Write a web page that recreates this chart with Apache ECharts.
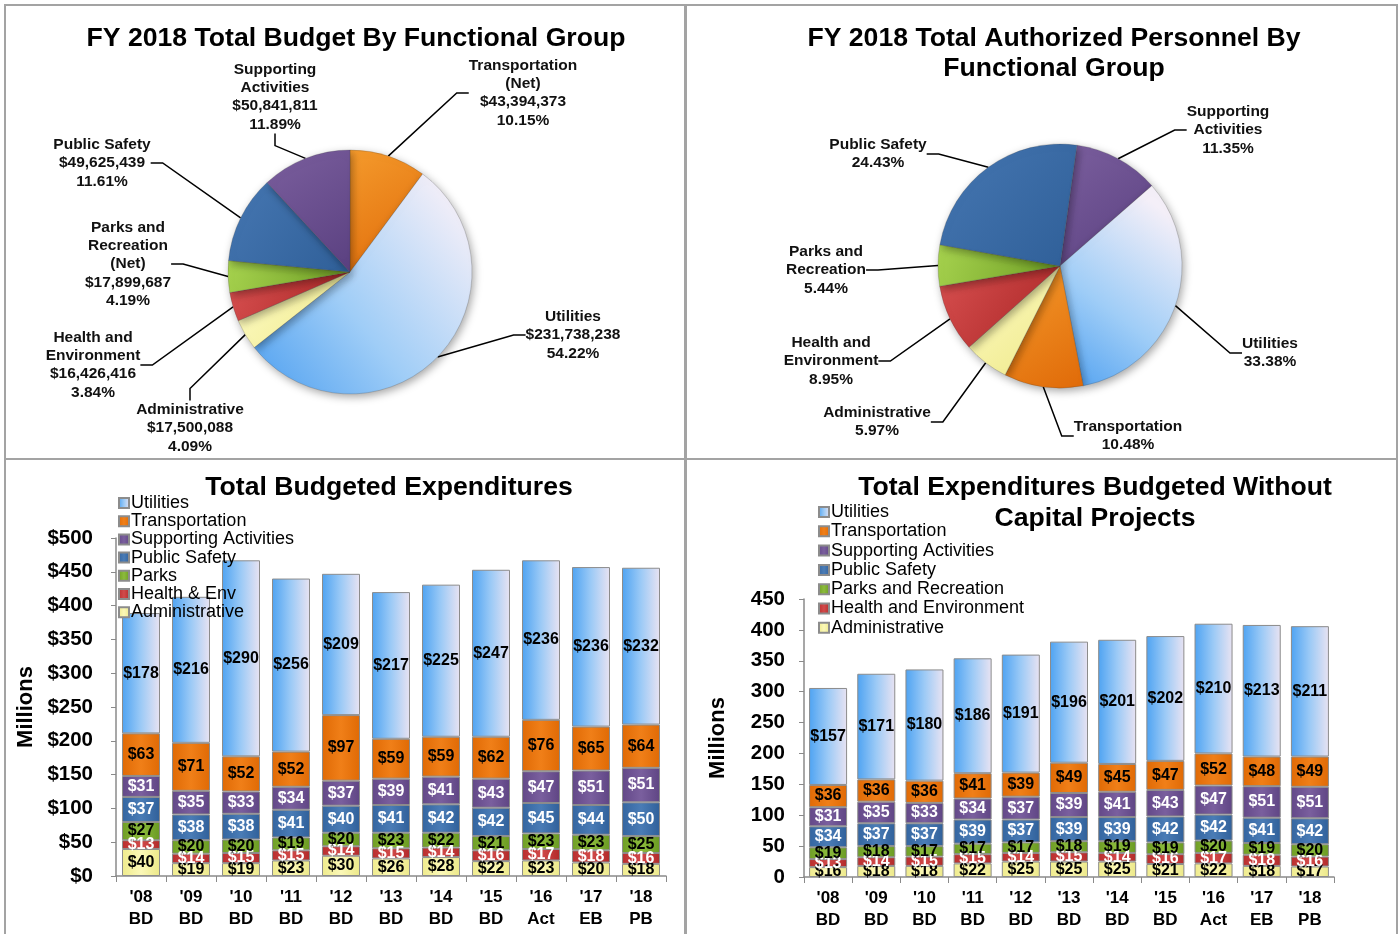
<!DOCTYPE html>
<html><head><meta charset="utf-8">
<script src="https://cdn.jsdelivr.net/npm/echarts@6/dist/echarts.min.js"></script>
<style>
html,body{margin:0;padding:0;background:#fff;width:1399px;height:934px;overflow:hidden;}
.c{position:absolute;}
.b{position:absolute;border:2px solid #a3a3a3;box-sizing:border-box;pointer-events:none;}
</style></head><body>
<div id="tl" class="c" style="left:0;top:0;width:685px;height:458px"></div>
<div id="tr" class="c" style="left:685px;top:0;width:714px;height:458px"></div>
<div id="bl" class="c" style="left:0;top:458px;width:685px;height:476px"></div>
<div id="br" class="c" style="left:685px;top:458px;width:714px;height:476px"></div>
<div class="b" style="left:4px;top:4px;width:683px;height:456px"></div>
<div class="b" style="left:684px;top:4px;width:714px;height:456px"></div>
<div class="b" style="left:4px;top:458px;width:683px;height:480px"></div>
<div class="b" style="left:684px;top:458px;width:714px;height:480px"></div>
<script>
// ---------- DATA ----------
const categories = ["'08\nBD","'09\nBD","'10\nBD","'11\nBD","'12\nBD","'13\nBD","'14\nBD","'15\nBD","'16\nAct","'17\nEB","'18\nPB"];

// Total Budgeted Expenditures (millions)
const totAdministrative = [40,19,19,23,30,26,28,22,23,20,18];
const totHealth         = [13,14,15,15,14,15,14,16,17,18,16];
const totParks          = [27,20,20,19,20,23,22,21,23,23,25];
const totPublicSafety   = [37,38,38,41,40,41,42,42,45,44,50];
const totSupporting     = [31,35,33,34,37,39,41,43,47,51,51];
const totTransportation = [63,71,52,52,97,59,59,62,76,65,64];
const totUtilities      = [178,216,290,256,209,217,225,247,236,236,232];

// Total Expenditures Budgeted Without Capital Projects (millions)
const opAdministrative = [16,18,18,22,25,25,25,21,22,18,17];
const opHealth         = [13,14,15,15,14,15,14,16,17,18,16];
const opParks          = [19,18,17,17,17,18,19,19,20,19,20];
const opPublicSafety   = [34,37,37,39,37,39,39,42,42,41,42];
const opSupporting     = [31,35,33,34,37,39,41,43,47,51,51];
const opTransportation = [36,36,36,41,39,49,45,47,52,48,49];
const opUtilities      = [157,171,180,186,191,196,201,202,210,213,211];

// FY 2018 budget by functional group (dollars)
const budgetNames  = ["Transportation\n(Net)","Utilities","Administrative","Health and\nEnvironment","Parks and\nRecreation\n(Net)","Public Safety","Supporting\nActivities"];
const budgetValues = [43394373,231738238,17500088,16426416,17899687,49625439,50841811];

// FY 2018 authorized personnel by functional group (percent)
const personnelNames = ["Supporting\nActivities","Utilities","Transportation","Administrative","Health and\nEnvironment","Parks and\nRecreation","Public Safety"];
const personnelPct   = [11.35,33.38,10.48,5.97,8.95,5.44,24.43];

const barLegendTot = ["Utilities","Transportation","Supporting Activities","Public Safety","Parks","Health & Env","Administrative"];
const barLegendOp  = ["Utilities","Transportation","Supporting Activities","Public Safety","Parks and Recreation","Health and Environment","Administrative"];

// ---------- STYLE ----------
const FONT = "'Liberation Sans', Arial, sans-serif";
const G = echarts.graphic.LinearGradient;
const grad = (a,b,c) => new G(0,0,1,0,[{offset:0,color:a},{offset:0.5,color:b},{offset:1,color:c}]);
const groupStyle = {
  Utilities:      {color: grad('#4ea3f2','#9ccaf6','#e9e3f2'), label:'#000'},
  Transportation: {color: grad('#e06a05','#f07f18','#e06a05'), label:'#000'},
  Supporting:     {color: grad('#634888','#7a5f9e','#5f4584'), label:'#fff'},
  PublicSafety:   {color: grad('#3465a0','#4a7cb6','#30609a'), label:'#fff'},
  Parks:          {color: grad('#6f9e25','#8cbb3c','#6a9a22'), label:'#000'},
  Health:         {color: grad('#b92e2e','#d24a4a','#b22a2a'), label:'#fff'},
  Administrative: {color: grad('#efeb8c','#fbf8b8','#ece888'), label:'#000'}
};

function barSeries(name, data, key) {
  return {
    name, type:'bar', stack:'s', data, barWidth:38,
    itemStyle:{color:groupStyle[key].color, borderColor:'#8c8c8c', borderWidth:1},
    label:{show:true, position:'inside', formatter:p=>'$'+p.value, color:groupStyle[key].label,
      fontFamily:FONT, fontWeight:'bold', fontSize:16},
    emphasis:{disabled:true}
  };
}

function barOption(titleText, titleX, legendNames, legendLeft, legendTop, legendGap, grid, yMax, dollar, nameGap, labelMargin, d) {
  const keys = ['Administrative','Health','Parks','PublicSafety','Supporting','Transportation','Utilities'];
  const names = [legendNames[6],legendNames[5],legendNames[4],legendNames[3],legendNames[2],legendNames[1],legendNames[0]];
  return {
    animation:false,
    title:{text:titleText, left:titleX, textAlign:'center', top:9, textStyle:{fontFamily:FONT,fontWeight:'bold',fontSize:26.6,color:'#000',lineHeight:31}},
    legend:{orient:'vertical', left:legendLeft, top:legendTop, itemGap:legendGap, itemWidth:10, itemHeight:10, icon:'rect',
      data:legendNames, textStyle:{fontFamily:FONT,fontSize:18,color:'#000',lineHeight:18, padding:[0,0,0,-3]}},
    grid,
    xAxis:{type:'category', data:categories,
      axisLine:{lineStyle:{color:'#8a8a8a',width:1.5}},
      axisTick:{show:true, length:6, lineStyle:{color:'#8a8a8a'}},
      axisLabel:{fontFamily:FONT,fontWeight:'bold',fontSize:17,color:'#000',lineHeight:22,margin:10}},
    yAxis:{type:'value', min:0, max:yMax, interval:50,
      name:'Millions', nameLocation:'middle', nameGap,
      nameTextStyle:{fontFamily:FONT,fontWeight:'bold',fontSize:22,color:'#000'},
      axisLine:{show:true,lineStyle:{color:'#8a8a8a',width:1.5}},
      axisTick:{show:true,length:5,lineStyle:{color:'#8a8a8a'}},
      splitLine:{show:false},
      axisLabel:{formatter:v=>(dollar?'$':'')+v, fontFamily:FONT,fontWeight:'bold',fontSize:20.5,color:'#000',margin:labelMargin}},
    series: keys.map((k,i)=>barSeries(names[i], d[i], k))
  };
}

const pieSlice = {
  Utilities: new G(0,1,1,0.2,[{offset:0,color:'#4d9ff0'},{offset:0.45,color:'#9fcdf7'},{offset:1,color:'#f4eff8'}]),
  Transportation: new G(0,0,1,1,[{offset:0,color:'#f49a2c'},{offset:1,color:'#e06a08'}]),
  Supporting: new G(0,0,1,1,[{offset:0,color:'#7b5f9e'},{offset:1,color:'#5a4080'}]),
  PublicSafety: new G(0,0,1,1,[{offset:0,color:'#4677b2'},{offset:1,color:'#2f5f98'}]),
  Parks: new G(0,0,1,1,[{offset:0,color:'#a6d24e'},{offset:1,color:'#6e9e24'}]),
  Health: new G(0,0,1,1,[{offset:0,color:'#d85050'},{offset:1,color:'#a82424'}]),
  Administrative: new G(0,0,1,1,[{offset:0,color:'#fdfbc4'},{offset:1,color:'#efe98a'}])
};

function pieOption(titleText, titleX, center, startAngle, data, keys, labelFmt, labelPos) {
  return {
    animation:false,
    title:{text:titleText, left:titleX, textAlign:'center', top:19, textStyle:{fontFamily:FONT,fontWeight:'bold',fontSize:26.6,color:'#000',lineHeight:30}},
    series:[{
      type:'pie', center, radius:122, startAngle, clockwise:true, avoidLabelOverlap:false,
      data: data.map((v,i)=>({name:v.name, value:v.value, itemStyle:{color:pieSlice[keys[i]]}})),
      itemStyle:{borderColor:'rgba(60,60,60,0.35)', borderWidth:0.6, shadowBlur:8, shadowColor:'rgba(0,0,0,0.35)', shadowOffsetX:2, shadowOffsetY:3},
      label:{show:true, position:'outside', formatter:labelFmt, fontFamily:FONT, fontWeight:'bold', fontSize:15.5, lineHeight:18.3, color:'#111', align:'center'},
      labelLine:{show:true, length:12, length2:12, lineStyle:{color:'#000', width:1.5}},
      labelLayout: p => ({x:labelPos[p.dataIndex][0], y:labelPos[p.dataIndex][1], align:'center', verticalAlign:'middle'}),
      emphasis:{disabled:true}
    }]
  };
}

// ---------- CHARTS ----------
const budgetTotal = budgetValues.reduce((a,b)=>a+b,0);
const budgetKeys = ['Transportation','Utilities','Administrative','Health','Parks','PublicSafety','Supporting'];
const budgetLabelPos = [[523,93],[573,335],[190,428],[93,365],[128,264],[102,163],[275,97]];
echarts.init(document.getElementById('tl')).setOption(pieOption(
  'FY 2018 Total Budget By Functional Group', 351, [350,272], 90,
  budgetNames.map((n,i)=>({name:n, value:budgetValues[i]})), budgetKeys,
  p => p.name + '\n$' + p.value.toLocaleString('en-US') + '\n' + (p.value/budgetTotal*100).toFixed(2) + '%',
  budgetLabelPos));

const personnelKeys = ['Supporting','Utilities','Transportation','Administrative','Health','Parks','PublicSafety'];
const personnelLabelPos = [[543,130],[585,353],[443,436],[192,422],[146,361],[141,270],[193,154]];
echarts.init(document.getElementById('tr')).setOption(pieOption(
  'FY 2018 Total Authorized Personnel By\nFunctional Group', 364, [375,266], 82,
  personnelNames.map((n,i)=>({name:n, value:personnelPct[i]})), personnelKeys,
  p => p.name + '\n' + p.value.toFixed(2) + '%',
  personnelLabelPos));

echarts.init(document.getElementById('bl')).setOption(barOption(
  'Total Budgeted Expenditures', 384, barLegendTot, 113, 31, 0.2,
  {left:116, right:19, top:80, bottom:58}, 500, true, 76, 23,
  [totAdministrative, totHealth, totParks, totPublicSafety, totSupporting, totTransportation, totUtilities]));

echarts.init(document.getElementById('br')).setOption(barOption(
  'Total Expenditures Budgeted Without\nCapital Projects', 405, barLegendOp, 128, 40, 1.3,
  {left:119, right:65, top:141, bottom:57}, 450, false, 75, 19,
  [opAdministrative, opHealth, opParks, opPublicSafety, opSupporting, opTransportation, opUtilities]));
</script>
</body></html>
